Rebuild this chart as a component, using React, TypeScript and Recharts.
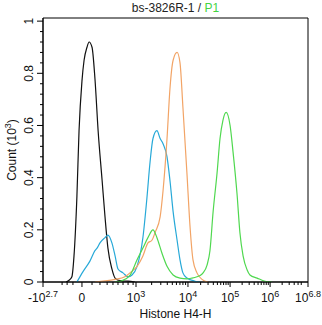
import { LineChart, Line, XAxis, YAxis, ReferenceArea } from 'recharts'

// x values are in display channels (0..1000 across the biexponential axis)
const blackX = [87, 102, 109, 117, 128, 136, 147, 155, 166, 174, 185, 196, 208, 223, 234, 245, 260, 272, 291, 321, 347]
const blackY = [0, 0.01, 0.02, 0.1, 0.33, 0.58, 0.77, 0.85, 0.9, 0.92, 0.9, 0.78, 0.58, 0.39, 0.25, 0.13, 0.05, 0.015, 0.005, 0.003, 0]

const cyanX = [128, 151, 177, 196, 204, 215, 234, 245, 260, 272, 283, 302, 321, 336, 355, 377, 392, 404, 415, 430, 442, 453, 468, 479, 491, 506, 517, 528, 543, 574, 593]
const cyanY = [0, 0.04, 0.08, 0.12, 0.13, 0.15, 0.17, 0.18, 0.15, 0.1, 0.05, 0.035, 0.02, 0.027, 0.06, 0.17, 0.32, 0.46, 0.55, 0.58, 0.55, 0.53, 0.48, 0.39, 0.27, 0.16, 0.085, 0.035, 0.015, 0.003, 0]

const orangeX = [196, 234, 272, 309, 328, 355, 377, 396, 411, 423, 442, 453, 468, 479, 491, 506, 517, 528, 543, 555, 566, 581, 600, 623]
const orangeY = [0, 0.004, 0.01, 0.02, 0.035, 0.06, 0.1, 0.15, 0.16, 0.19, 0.25, 0.35, 0.55, 0.74, 0.85, 0.88, 0.84, 0.67, 0.42, 0.21, 0.085, 0.035, 0.01, 0]

const greenX = [272, 298, 328, 355, 377, 396, 415, 430, 449, 468, 491, 517, 543, 562, 581, 593, 604, 619, 630, 642, 657, 668, 679, 691, 706, 717, 732, 743, 755, 770, 781, 808, 838, 864]
const greenY = [0, 0.005, 0.025, 0.085, 0.13, 0.17, 0.2, 0.17, 0.11, 0.06, 0.027, 0.015, 0.012, 0.015, 0.02, 0.025, 0.035, 0.065, 0.12, 0.27, 0.42, 0.55, 0.62, 0.65, 0.6, 0.5, 0.34, 0.19, 0.1, 0.047, 0.027, 0.015, 0.003, 0]

const xTicks = [0, 147, 351, 547, 706, 857, 1000]
const xTickBase = ['-10', '0', '10', '10', '10', '10', '10']
const xTickExp = ['2.7', '', '3', '4', '5', '6', '6.8']
const xMinor = [72, 91, 113, 185, 215, 242, 264, 283, 302, 321, 340]
const decades = [351, 547, 706, 857]

const yTicks = [0, 0.2, 0.4, 0.6, 0.8, 1]
const yMax = 1.012

const toPoints = (xs: number[], ys: number[]) => xs.map((x, i) => ({ x, y: ys[i] }))

// log-spaced minor ticks inside each decade
const logMinor: number[] = []
for (let d = 0; d < decades.length - 1; d++) {
  for (let k = 2; k <= 9; k++) {
    logMinor.push(decades[d] + Math.log10(k) * (decades[d + 1] - decades[d]))
  }
}
for (let k = 2; k <= 6; k++) logMinor.push(857 + Math.log10(k) * (857 - 706))
const allXTicks = [...xTicks, ...xMinor, ...logMinor.filter(v => v < 1000)]

const yMinor: number[] = []
for (let v = 0.04; v < 1; v += 0.04) {
  if (Math.abs(v / 0.2 - Math.round(v / 0.2)) > 0.01) yMinor.push(Number(v.toFixed(2)))
}
const allYTicks = [...yTicks, ...yMinor]

const font = '"Liberation Sans", Arial, sans-serif'

function XTick(props: any) {
  const { x, y, payload } = props
  const i = xTicks.indexOf(payload.value)
  if (i < 0) return <line x1={x} x2={x} y1={y} y2={y + 3} stroke="#000" />
  return (
    <g>
      <line x1={x} x2={x} y1={y} y2={y + 5} stroke="#000" />
      <text x={x} y={y + 20} textAnchor="middle" fontSize={12} fontFamily={font} fill="#111">
        {xTickBase[i]}
        {xTickExp[i] && (
          <tspan dy={-5} fontSize={9}>
            {xTickExp[i]}
          </tspan>
        )}
      </text>
    </g>
  )
}

function YTick(props: any) {
  const { x, y, payload } = props
  const major = yTicks.includes(payload.value)
  if (!major) return <line x1={x - 3} x2={x} y1={y} y2={y} stroke="#000" />
  return (
    <g>
      <line x1={x - 6} x2={x} y1={y} y2={y} stroke="#000" />
      <text
        x={x - 10}
        y={y}
        textAnchor="middle"
        fontSize={12}
        fontFamily={font}
        fill="#111"
        transform={`rotate(-90 ${x - 10} ${y})`}
      >
        {String(payload.value)}
      </text>
    </g>
  )
}

const series = [
  { name: 'black', color: '#111111', data: toPoints(blackX, blackY) },
  { name: 'cyan', color: '#27a9d8', data: toPoints(cyanX, cyanY) },
  { name: 'orange', color: '#f2a466', data: toPoints(orangeX, orangeY) },
  { name: 'green', color: '#4fd84f', data: toPoints(greenX, greenY) },
]

export default function App() {
  return (
    <div style={{ position: 'absolute', left: 0, top: 0, width: 322, height: 325, background: '#fff', fontFamily: font }}>
      <LineChart width={322} height={325} margin={{ top: 18, right: 14, bottom: 13, left: 8 }}>
        <XAxis
          dataKey="x"
          type="number"
          domain={[0, 1000]}
          ticks={allXTicks}
          interval={0}
          tickSize={0}
          tickMargin={0}
          tickLine={false}
          tick={<XTick />}
          axisLine={{ stroke: '#000' }}
          height={30}
          allowDataOverflow
        />
        <YAxis
          type="number"
          domain={[0, yMax]}
          ticks={allYTicks}
          interval={0}
          tickSize={0}
          tickMargin={0}
          tickLine={false}
          tick={<YTick />}
          axisLine={{ stroke: '#000' }}
          width={35}
          allowDataOverflow
        />
        <ReferenceArea x1={0} x2={1000} y1={0} y2={yMax} fill="none" stroke="#000" strokeWidth={1} ifOverflow="visible" />
        {series.map(s => (
          <Line
            key={s.name}
            data={s.data}
            dataKey="y"
            type="monotone"
            stroke={s.color}
            strokeWidth={1.2}
            dot={false}
            isAnimationActive={false}
          />
        ))}
      </LineChart>
      <div style={{ position: 'absolute', top: 1, left: 43, width: 265, textAlign: 'center', fontSize: 12, color: '#222' }}>
        bs-3826R-1 / <span style={{ color: '#44d444' }}>P1</span>
      </div>
      <div style={{ position: 'absolute', top: 307, left: 43, width: 265, textAlign: 'center', fontSize: 12, color: '#111' }}>
        Histone H4-H
      </div>
      <div
        style={{
          position: 'absolute',
          left: 11,
          top: 150,
          transform: 'translate(-50%, -50%) rotate(-90deg)',
          whiteSpace: 'nowrap',
          fontSize: 12,
          color: '#111',
        }}
      >
        Count (10<sup style={{ fontSize: 9 }}>3</sup>)
      </div>
    </div>
  )
}
